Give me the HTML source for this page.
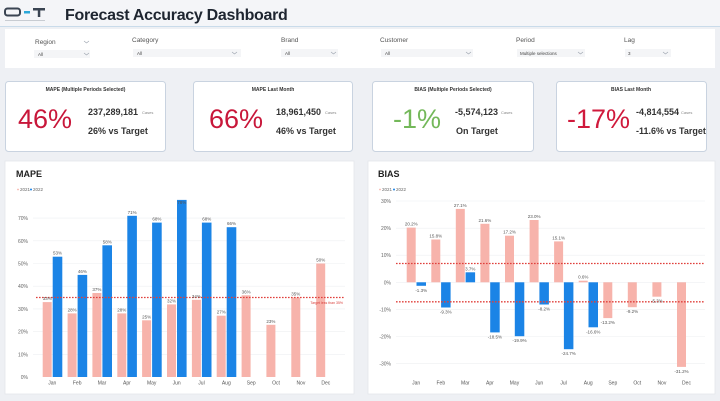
<!DOCTYPE html>
<html><head><meta charset="utf-8"><style>
html,body{margin:0;padding:0;background:#eef0f4;}
svg{display:block;font-family:"Liberation Sans",sans-serif;}
</style></head><body>
<svg width="720" height="401" viewBox="0 0 720 401" xmlns="http://www.w3.org/2000/svg">
<rect x="0" y="0" width="720" height="401" fill="#eef0f4"/>
<!-- header -->
<rect x="0" y="0" width="720" height="26" fill="#f4f5f8"/>
<line x1="0" y1="26.5" x2="720" y2="26.5" stroke="#c9dbea" stroke-width="1"/>
<rect x="5" y="8.5" width="15" height="7" rx="2.5" fill="none" stroke="#3a4452" stroke-width="2"/>
<rect x="24" y="11" width="6" height="2.5" fill="#2aa7d8"/>
<rect x="33" y="8" width="12" height="2.5" fill="#3a4452"/>
<rect x="37.8" y="8" width="2.5" height="9" fill="#3a4452"/>
<rect x="5" y="20" width="40" height="1" fill="#c8ccd2"/>
<text x="65" y="20" font-size="16" font-weight="bold" fill="#1e2530" letter-spacing="-0.3">Forecast Accuracy Dashboard</text>
<!-- filter bar -->
<rect x="5" y="29" width="710" height="39" fill="#ffffff"/>
<g font-size="6.5" fill="#555">
<text x="35" y="44">Region</text>
<text x="132" y="42">Category</text>
<text x="281" y="42">Brand</text>
<text x="380" y="42">Customer</text>
<text x="516" y="42">Period</text>
<text x="624" y="42">Lag</text>
</g>
<g fill="#f4f5f7">
<rect x="34" y="50" width="56" height="8"/>
<rect x="133" y="49" width="108" height="8"/>
<rect x="281" y="49" width="57" height="8"/>
<rect x="381" y="49" width="92" height="8"/>
<rect x="517" y="49" width="68" height="8"/>
<rect x="625" y="49" width="46" height="8"/>
</g>
<g font-size="4.5" fill="#444">
<text x="38" y="56">All</text>
<text x="137" y="55">All</text>
<text x="285" y="55">All</text>
<text x="385" y="55">All</text>
<text x="520" y="55">Multiple selections</text>
<text x="628" y="55">3</text>
</g>
<g fill="none" stroke="#9aa2ad" stroke-width="0.6">
<polyline points="84,41 86.5,43 89,41"/>
<polyline points="84,53 86.5,55 89,53"/>
<polyline points="232,52 234.5,54 237,52"/>
<polyline points="331,52 333.5,54 336,52"/>
<polyline points="466,52 468.5,54 471,52"/>
<polyline points="578,52 580.5,54 583,52"/>
<polyline points="663,52 665.5,54 668,52"/>
</g>
<!-- KPI cards -->
<g fill="#ffffff" stroke="#c9d3e0" stroke-width="1">
<rect x="5.5" y="81.5" width="160" height="70" rx="3"/>
<rect x="193.5" y="81.5" width="159" height="70" rx="3"/>
<rect x="372.5" y="81.5" width="161" height="70" rx="3"/>
<rect x="556.5" y="81.5" width="150" height="70" rx="3"/>
</g>
<g font-size="5" font-weight="bold" fill="#333" text-anchor="middle">
<text x="85.5" y="91">MAPE (Multiple Periods Selected)</text>
<text x="273" y="91">MAPE Last Month</text>
<text x="453" y="91">BIAS (Multiple Periods Selected)</text>
<text x="631" y="91">BIAS Last Month</text>
</g>
<g font-size="27" fill="#c8173a">
<text x="18" y="128">46%</text>
<text x="209" y="128">66%</text>
<text x="567" y="128" fill="#d01a3c">-17%</text>
</g>
<text x="393" y="128" font-size="27" fill="#74b85a">-1%</text>
<g font-size="9" font-weight="bold" fill="#333">
<text x="88" y="115">237,289,181</text>
<text x="88" y="134">26% vs Target</text>
<text x="276" y="115">18,961,450</text>
<text x="276" y="134">46% vs Target</text>
<text x="455" y="115">-5,574,123</text>
<text x="456" y="134">On Target</text>
<text x="636" y="115">-4,814,554</text>
<text x="636" y="134">-11.6% vs Target</text>
</g>
<g font-size="4" fill="#888">
<text x="142" y="114">Cases</text>
<text x="325" y="114">Cases</text>
<text x="501" y="114">Cases</text>
<text x="681" y="114">Cases</text>
</g>
<!-- panels -->
<rect x="5" y="161" width="349" height="233" fill="#ffffff" stroke="#e3e7ec" stroke-width="0.8"/>
<rect x="368" y="161" width="347" height="233" fill="#ffffff" stroke="#e3e7ec" stroke-width="0.8"/>
<!-- MAPE chart -->
<text x="16" y="177" font-size="9" font-weight="bold" fill="#222">MAPE</text>
<g font-size="4.5" fill="#666">
<circle cx="18" cy="189.5" r="0.9" fill="#f7b3ab"/><text x="20" y="191">2021</text>
<circle cx="31" cy="189.5" r="1" fill="#1b84e6"/><text x="33" y="191">2022</text>
</g>
<g stroke="#eeeff2" stroke-width="0.6">
<line x1="33" y1="354.3" x2="345" y2="354.3"/>
<line x1="33" y1="331.6" x2="345" y2="331.6"/>
<line x1="33" y1="308.9" x2="345" y2="308.9"/>
<line x1="33" y1="286.2" x2="345" y2="286.2"/>
<line x1="33" y1="263.5" x2="345" y2="263.5"/>
<line x1="33" y1="240.8" x2="345" y2="240.8"/>
<line x1="33" y1="218.1" x2="345" y2="218.1"/>
</g>
<g font-size="5" fill="#666" text-anchor="end">
<text x="28" y="379">0%</text>
<text x="28" y="356.3">10%</text>
<text x="28" y="333.6">20%</text>
<text x="28" y="310.9">30%</text>
<text x="28" y="288.2">40%</text>
<text x="28" y="265.5">50%</text>
<text x="28" y="242.8">60%</text>
<text x="28" y="220.1">70%</text>
</g>
<g fill="#f7b3ab">
<rect x="42.7" y="302.1" width="9" height="74.9"/>
<rect x="67.6" y="313.4" width="9" height="63.6"/>
<rect x="92.4" y="293.0" width="9" height="84.0"/>
<rect x="117.3" y="313.4" width="9" height="63.6"/>
<rect x="142.1" y="320.3" width="9" height="56.7"/>
<rect x="167.0" y="304.4" width="9" height="72.6"/>
<rect x="191.9" y="299.8" width="9" height="77.2"/>
<rect x="216.7" y="315.7" width="9" height="61.3"/>
<rect x="241.6" y="295.3" width="9" height="81.7"/>
<rect x="266.4" y="324.8" width="9" height="52.2"/>
<rect x="291.3" y="297.6" width="9" height="79.4"/>
<rect x="316.2" y="263.5" width="9" height="113.5"/>
</g>
<g fill="#1b84e6">
<rect x="52.7" y="256.7" width="9.6" height="120.3"/>
<rect x="77.6" y="274.9" width="9.6" height="102.1"/>
<rect x="102.4" y="245.3" width="9.6" height="131.7"/>
<rect x="127.3" y="215.8" width="9.6" height="161.2"/>
<rect x="152.1" y="222.6" width="9.6" height="154.4"/>
<rect x="177.0" y="199.9" width="9.6" height="177.1"/>
<rect x="201.9" y="222.6" width="9.6" height="154.4"/>
<rect x="226.7" y="227.2" width="9.6" height="149.8"/>
</g>
<line x1="36" y1="297.5" x2="345" y2="297.5" stroke="#e0403c" stroke-width="1.3" stroke-dasharray="1.6,1.4"/>
<text x="343" y="304" font-size="3.5" fill="#d9433f" text-anchor="end">Target less than 35%</text>
<g font-size="4.5" fill="#555" text-anchor="middle">
<text x="47.2" y="300.1">33%</text>
<text x="72.1" y="311.4">28%</text>
<text x="96.9" y="291.0">37%</text>
<text x="121.8" y="311.4">28%</text>
<text x="146.6" y="318.3">25%</text>
<text x="171.5" y="302.4">32%</text>
<text x="196.4" y="297.8">34%</text>
<text x="221.2" y="313.7">27%</text>
<text x="246.1" y="293.3">36%</text>
<text x="270.9" y="322.8">23%</text>
<text x="295.8" y="295.6">35%</text>
<text x="320.7" y="261.5">50%</text>
<text x="57.5" y="254.7">53%</text>
<text x="82.4" y="272.9">46%</text>
<text x="107.2" y="243.3">58%</text>
<text x="132.1" y="213.8">71%</text>
<text x="156.9" y="220.6">68%</text>
<text x="181.8" y="204">78%</text>
<text x="206.7" y="220.6">68%</text>
<text x="231.5" y="225.2">66%</text>
</g>
<g font-size="5" fill="#555" text-anchor="middle">
<text x="52.3" y="384.5">Jan</text>
<text x="77.2" y="384.5">Feb</text>
<text x="102.0" y="384.5">Mar</text>
<text x="126.9" y="384.5">Apr</text>
<text x="151.7" y="384.5">May</text>
<text x="176.6" y="384.5">Jun</text>
<text x="201.5" y="384.5">Jul</text>
<text x="226.3" y="384.5">Aug</text>
<text x="251.2" y="384.5">Sep</text>
<text x="276.0" y="384.5">Oct</text>
<text x="300.9" y="384.5">Nov</text>
<text x="325.8" y="384.5">Dec</text>
</g>
<!-- BIAS chart -->
<text x="378" y="177" font-size="9" font-weight="bold" fill="#222">BIAS</text>
<g font-size="4.5" fill="#666">
<circle cx="380" cy="189.5" r="0.9" fill="#f7b3ab"/><text x="382" y="191">2021</text>
<circle cx="394" cy="189.5" r="1" fill="#1b84e6"/><text x="396" y="191">2022</text>
</g>
<g stroke="#eeeff2" stroke-width="0.6">
<line x1="396" y1="201.0" x2="705" y2="201.0"/>
<line x1="396" y1="228.2" x2="705" y2="228.2"/>
<line x1="396" y1="255.2" x2="705" y2="255.2"/>
<line x1="396" y1="282.3" x2="705" y2="282.3"/>
<line x1="396" y1="309.4" x2="705" y2="309.4"/>
<line x1="396" y1="336.5" x2="705" y2="336.5"/>
<line x1="396" y1="363.6" x2="705" y2="363.6"/>
</g>
<g font-size="5" fill="#666" text-anchor="end">
<text x="391" y="203">30%</text>
<text x="391" y="230.2">20%</text>
<text x="391" y="257.2">10%</text>
<text x="391" y="284.3">0%</text>
<text x="391" y="311.4">-10%</text>
<text x="391" y="338.5">-20%</text>
<text x="391" y="365.6">-30%</text>
</g>
<g fill="#f7b3ab">
<rect x="406.7" y="227.6" width="9" height="54.7"/>
<rect x="431.3" y="239.5" width="9" height="42.8"/>
<rect x="455.8" y="208.9" width="9" height="73.4"/>
<rect x="480.4" y="223.8" width="9" height="58.5"/>
<rect x="505.0" y="235.7" width="9" height="46.6"/>
<rect x="529.6" y="220.0" width="9" height="62.3"/>
<rect x="554.1" y="241.4" width="9" height="40.9"/>
<rect x="578.7" y="280.7" width="9" height="1.6"/>
<rect x="603.3" y="282.3" width="9" height="35.8"/>
<rect x="627.8" y="282.3" width="9" height="24.9"/>
<rect x="652.4" y="282.3" width="9" height="14.4"/>
<rect x="677.0" y="282.3" width="9" height="84.6"/>
</g>
<g fill="#1b84e6">
<rect x="416.5" y="282.3" width="9.5" height="3.5"/>
<rect x="441.1" y="282.3" width="9.5" height="25.2"/>
<rect x="465.6" y="272.3" width="9.5" height="10.0"/>
<rect x="490.2" y="282.3" width="9.5" height="50.1"/>
<rect x="514.8" y="282.3" width="9.5" height="53.9"/>
<rect x="539.4" y="282.3" width="9.5" height="22.2"/>
<rect x="563.9" y="282.3" width="9.5" height="66.9"/>
<rect x="588.5" y="282.3" width="9.5" height="45.0"/>
</g>
<g stroke="#e0403c" stroke-width="1.3" stroke-dasharray="1.6,1.4">
<line x1="396" y1="263.5" x2="705" y2="263.5"/>
<line x1="396" y1="301.8" x2="705" y2="301.8"/>
</g>
<g font-size="4.5" fill="#555" text-anchor="middle">
<text x="411.2" y="225.6">20.2%</text>
<text x="435.8" y="237.5">15.8%</text>
<text x="460.3" y="206.9">27.1%</text>
<text x="484.9" y="221.8">21.6%</text>
<text x="509.5" y="233.7">17.2%</text>
<text x="534.1" y="218.0">23.0%</text>
<text x="558.6" y="239.4">15.1%</text>
<text x="583.2" y="278.7">0.6%</text>
<text x="607.8" y="324.1">-13.2%</text>
<text x="632.3" y="313.2">-9.2%</text>
<text x="656.9" y="302.7">-5.3%</text>
<text x="681.5" y="372.9">-31.2%</text>
<text x="421.2" y="291.8">-1.3%</text>
<text x="445.8" y="313.5">-9.3%</text>
<text x="470.3" y="270.3">3.7%</text>
<text x="494.9" y="338.4">-18.5%</text>
<text x="519.5" y="342.2">-19.9%</text>
<text x="544.1" y="310.5">-8.2%</text>
<text x="568.6" y="355.2">-24.7%</text>
<text x="593.2" y="333.3">-16.6%</text>
</g>
<g font-size="5" fill="#555" text-anchor="middle">
<text x="416.2" y="384.5">Jan</text>
<text x="440.8" y="384.5">Feb</text>
<text x="465.3" y="384.5">Mar</text>
<text x="489.9" y="384.5">Apr</text>
<text x="514.5" y="384.5">May</text>
<text x="539.1" y="384.5">Jun</text>
<text x="563.6" y="384.5">Jul</text>
<text x="588.2" y="384.5">Aug</text>
<text x="612.8" y="384.5">Sep</text>
<text x="637.3" y="384.5">Oct</text>
<text x="661.9" y="384.5">Nov</text>
<text x="686.5" y="384.5">Dec</text>
</g>
</svg>
</body></html>
